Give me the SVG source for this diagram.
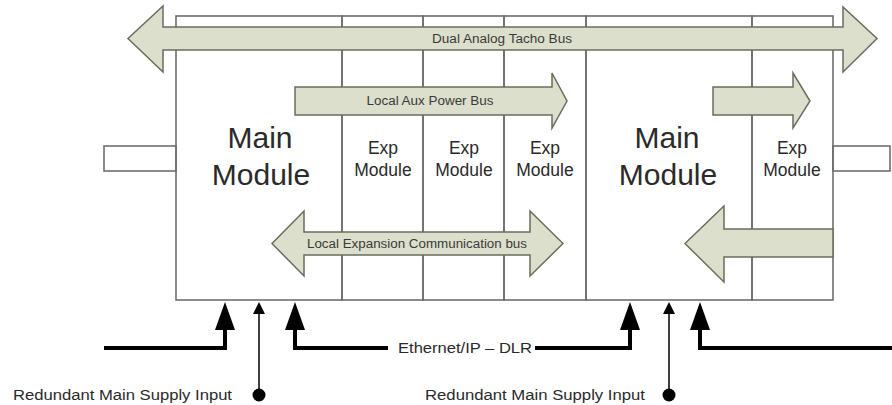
<svg xmlns="http://www.w3.org/2000/svg" width="892" height="405" viewBox="0 0 892 405">
<defs>
<style>
.box{fill:none;stroke:#6e6e6e;stroke-width:1.6}
.bus{fill:#dcdfcb;stroke:#6a6d5e;stroke-width:1.5;stroke-linejoin:miter}
.t{font-family:"Liberation Sans",Arial,sans-serif;fill:#2a2a2a}
.lbl{font-family:"Liberation Sans",Arial,sans-serif;fill:#3a3a3a;font-size:12px}
.thick{fill:none;stroke:#000;stroke-width:4}
.thin{fill:none;stroke:#000;stroke-width:1.5}
</style>
</defs>
<rect width="892" height="405" fill="#fff"/>
<g id="modules">
<g id="main1"><rect class="box" x="176" y="16" width="166" height="284"/>
<text class="t" font-size="30" text-anchor="middle" x="260" y="148">Main</text>
<text class="t" font-size="30" text-anchor="middle" x="261" y="185">Module</text></g>
<g id="exp1"><rect class="box" x="342" y="16" width="81" height="284"/>
<text class="t" font-size="17.5" text-anchor="middle" x="383" y="154">Exp</text>
<text class="t" font-size="17.5" text-anchor="middle" x="383" y="176">Module</text></g>
<g id="exp2"><rect class="box" x="423" y="16" width="81" height="284"/>
<text class="t" font-size="17.5" text-anchor="middle" x="464" y="154">Exp</text>
<text class="t" font-size="17.5" text-anchor="middle" x="464" y="176">Module</text></g>
<g id="exp3"><rect class="box" x="504" y="16" width="82" height="284"/>
<text class="t" font-size="17.5" text-anchor="middle" x="545" y="154">Exp</text>
<text class="t" font-size="17.5" text-anchor="middle" x="545" y="176">Module</text></g>
<g id="main2"><rect class="box" x="586" y="16" width="166" height="284"/>
<text class="t" font-size="30" text-anchor="middle" x="667" y="148">Main</text>
<text class="t" font-size="30" text-anchor="middle" x="668" y="185">Module</text></g>
<g id="exp4"><rect class="box" x="752" y="16" width="81" height="284"/>
<text class="t" font-size="17.5" text-anchor="middle" x="792" y="154">Exp</text>
<text class="t" font-size="17.5" text-anchor="middle" x="792" y="176">Module</text></g>
<g id="portL"><rect class="box" x="104" y="146" width="72" height="25"/></g>
<g id="portR"><rect class="box" x="833" y="146" width="57" height="25"/></g>
</g>
<g id="buses">
<g id="tacho"><polygon class="bus" points="128,38.5 163,6 163,27 843,27 843,7 877,38.5 843,72 843,50 163,50 163,72"/>
<text class="lbl" x="502" y="43" text-anchor="middle" textLength="140" lengthAdjust="spacingAndGlyphs">Dual Analog Tacho Bus</text></g>
<g id="auxpower"><polygon class="bus" points="295,87 552,87 552,73 567,101 552,128 552,115 295,115"/>
<text class="lbl" x="430" y="105" text-anchor="middle" textLength="127" lengthAdjust="spacingAndGlyphs">Local Aux Power Bus</text></g>
<g id="auxpower2"><polygon class="bus" points="713,87 793,87 793,73 810,101 793,128 793,115 713,115"/></g>
<g id="expcomm"><polygon class="bus" points="272,243.5 304,211 304,232 530,232 530,211 563,243.5 530,276 530,255 304,255 304,276"/>
<text class="lbl" x="417" y="248" text-anchor="middle" textLength="220" lengthAdjust="spacingAndGlyphs">Local Expansion Communication bus</text></g>
<g id="expcomm2"><polygon class="bus" points="685,243.5 724,206 724,229 833,229 833,257 724,257 724,282"/></g>
</g>
<g id="connectors">
<polyline class="thick" points="104,348 225,348 225,328"/>
<polygon points="225,302 215,330 235,330" fill="#000"/>
<line class="thin" x1="259" y1="396" x2="259" y2="312"/>
<polygon points="259,302 253,314 265,314" fill="#000"/>
<circle cx="259" cy="395" r="6.5" fill="#000"/>
<polyline class="thick" points="388,348 295,348 295,328"/>
<polygon points="295,302 285,330 305,330" fill="#000"/>
<polyline class="thick" points="535,348 630,348 630,328"/>
<polygon points="630,302 620,330 640,330" fill="#000"/>
<line class="thin" x1="669" y1="396" x2="669" y2="312"/>
<polygon points="669,302 663,314 675,314" fill="#000"/>
<circle cx="669" cy="395" r="6.5" fill="#000"/>
<polyline class="thick" points="892,348 700,348 700,328"/>
<polygon points="700,302 690,330 710,330" fill="#000"/>
</g>
<g id="labels">
<text class="t" font-size="14" x="398" y="353" textLength="134" lengthAdjust="spacingAndGlyphs">Ethernet/IP – DLR</text>
<text class="t" font-size="14" x="13" y="400" textLength="219" lengthAdjust="spacingAndGlyphs">Redundant Main Supply Input</text>
<text class="t" font-size="14" x="425" y="400" textLength="220" lengthAdjust="spacingAndGlyphs">Redundant Main Supply Input</text>
</g>
</svg>
